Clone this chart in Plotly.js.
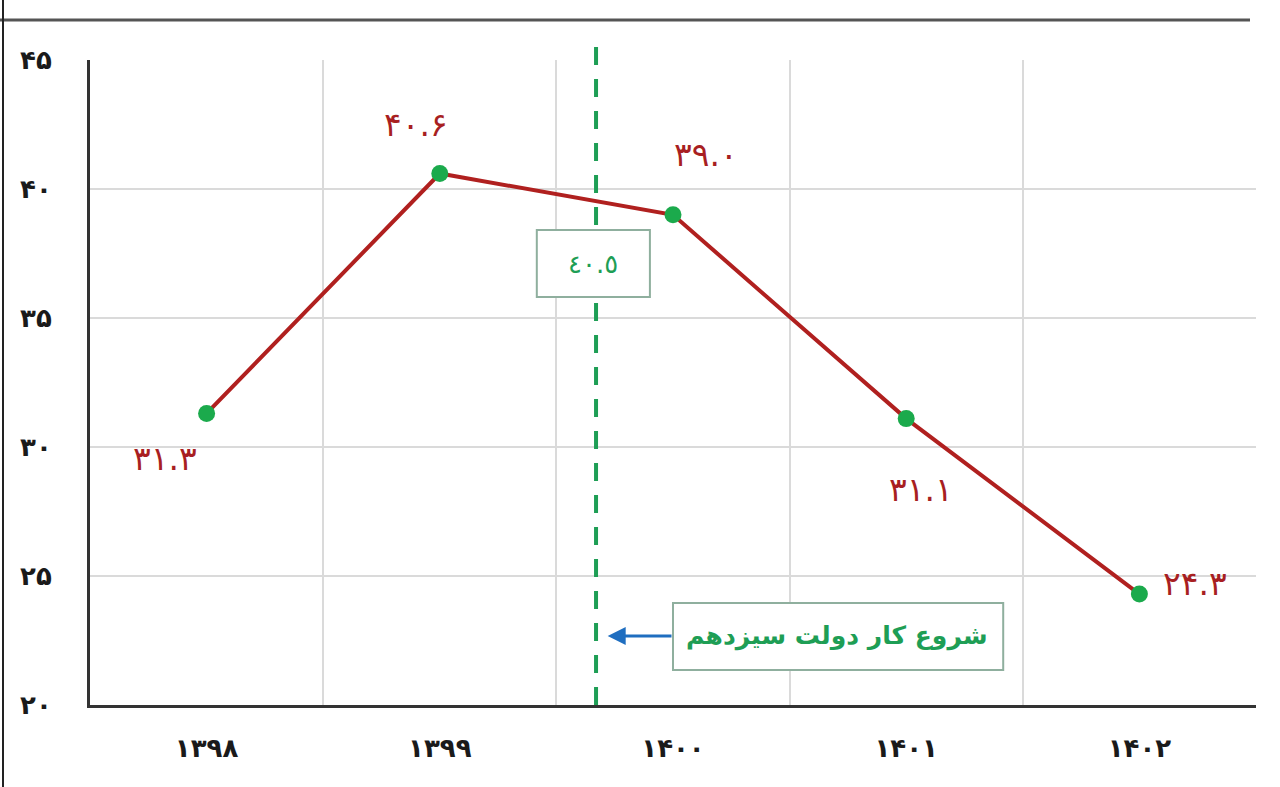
<!DOCTYPE html>
<html>
<head>
<meta charset="utf-8">
<script src="https://cdn.plot.ly/plotly-3.0.1.min.js"></script>
<style>
  html, body { margin: 0; padding: 0; background: #fff; }
  #plot { width: 1280px; height: 787px; }
</style>
</head>
<body>
<div id="plot"></div>
<script>
// سال‌ها و مقادیر
let years = ["۱۳۹۸", "۱۳۹۹", "۱۴۰۰", "۱۴۰۱", "۱۴۰۲"];
let values = [31.3, 40.6, 39.0, 31.1, 24.3];
let valueLabels = ["۳۱.۳", "۴۰.۶", "۳۹.۰", "۳۱.۱", "۲۴.۳"];
let yTicks = [20, 25, 30, 35, 40, 45];
let yTickLabels = ["۲۰", "۲۵", "۳۰", "۳۵", "۴۰", "۴۵"];

// شروع کار دولت سیزدهم (میانگین ۴۰.۵)
let govStart = 1.67;
let govAvgLabel = "٤٠.٥";
let govText = "شروع کار دولت سیزدهم";

// offsets of value labels (px)
let labelShift = [[-42, -45], [-24, 49], [33, 60], [15, -71], [56, 11]];

let red = "#A81F22";
let green = "#1E9E55";

let trace = {
    x: years,
    y: values,
    mode: "lines+markers",
    type: "scatter",
    line: { color: "#B0201F", width: 4 },
    marker: { size: 17, color: "#1BAA4C" },
    hoverinfo: "x+y"
};

let annotations = values.map((v, i) => ({
    x: years[i], y: v, xref: "x", yref: "y",
    text: valueLabels[i], showarrow: false,
    xshift: labelShift[i][0], yshift: labelShift[i][1],
    font: { family: "DejaVu Sans", size: 33, color: red }
}));

annotations.push({
    x: govStart - 0.015, y: 37.1, xref: "x", yref: "y",
    text: govAvgLabel, showarrow: false,
    font: { family: "DejaVu Sans", size: 26, color: green }
});
annotations.push({
    x: 2.705, y: 22.66, xref: "x", yref: "y",
    text: "<b>" + govText + "</b>", showarrow: false,
    font: { family: "DejaVu Sans", size: 25, color: green }
});
// arrow to the dashed line
annotations.push({
    x: govStart + 0.05, y: 22.67, xref: "x", yref: "y",
    ax: 2.0, ay: 22.67, axref: "x", ayref: "y",
    text: "", showarrow: true,
    arrowhead: 2, arrowsize: 1.2, arrowwidth: 3, arrowcolor: "#1F6EC0"
});

let shapes = [
    // dashed line
    {
        type: "line", xref: "x", yref: "paper",
        x0: govStart, x1: govStart, y0: 0, y1: 1.034,
        line: { color: green, width: 4, dash: "18px,14px" }
    },
    // box for average
    {
        type: "rect", xref: "x", yref: "y",
        x0: 1.416, x1: 1.901, y0: 35.81, y1: 38.41,
        fillcolor: "#ffffff", line: { color: "#8FAF9E", width: 2 }
    },
    // box for text
    {
        type: "rect", xref: "x", yref: "y",
        x0: 2.0, x1: 3.416, y0: 21.36, y1: 23.95,
        fillcolor: "#ffffff", line: { color: "#8FAF9E", width: 2 }
    },
    // top header rule
    {
        type: "line", xref: "paper", yref: "paper",
        x0: -90 / 1166, x1: 1250 / 1166 - 90 / 1166, y0: (705 - 20) / 645, y1: (705 - 20) / 645,
        line: { color: "#555555", width: 3 }
    },
    // left page border
    {
        type: "line", xref: "paper", yref: "paper",
        x0: -87 / 1166, x1: -87 / 1166, y0: -82 / 645, y1: 705 / 645,
        line: { color: "#222222", width: 2 }
    }
];

let tickFont = { family: "DejaVu Sans", size: 26, color: "#1a1a1a", weight: "bold" };

let layout = {
    width: 1280,
    height: 787,
    margin: { l: 90, r: 24, t: 60, b: 82 },
    paper_bgcolor: "#ffffff",
    plot_bgcolor: "#ffffff",
    showlegend: false,
    xaxis: {
        type: "category",
        range: [-0.5, 4.5],
        tickson: "boundaries",
        ticks: "",
        showgrid: true,
        gridcolor: "#DADADA",
        gridwidth: 2,
        showline: true,
        linecolor: "#333333",
        linewidth: 3,
        ticklabelstandoff: 18,
        tickfont: tickFont
    },
    yaxis: {
        range: [20, 45],
        tickvals: yTicks,
        ticktext: yTickLabels,
        ticks: "",
        showgrid: true,
        gridcolor: "#DADADA",
        gridwidth: 2,
        zeroline: false,
        showline: true,
        linecolor: "#333333",
        linewidth: 3,
        ticklabelstandoff: 30,
        tickfont: tickFont
    },
    shapes: shapes,
    annotations: annotations
};

Plotly.newPlot("plot", [trace], layout, { displayModeBar: false });
</script>
</body>
</html>
